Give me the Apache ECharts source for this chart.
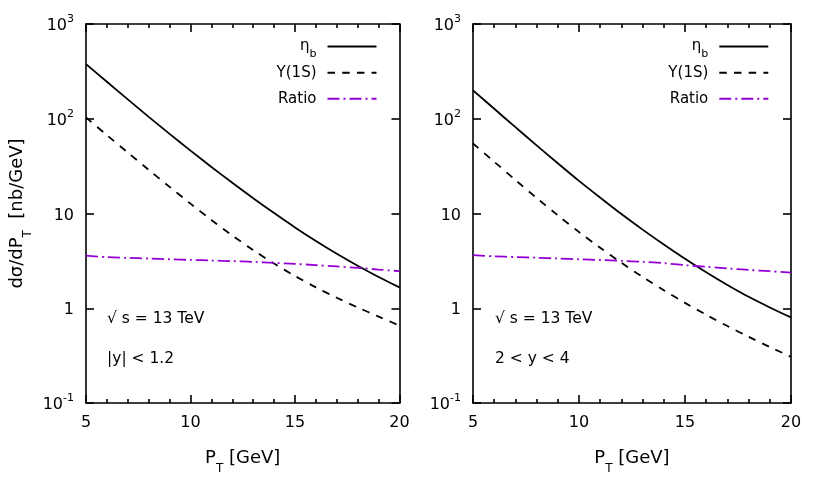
<!DOCTYPE html>
<html>
<head>
<meta charset="utf-8">
<script src="https://cdn.jsdelivr.net/npm/echarts@6/dist/echarts.min.js"></script>
<style>html,body{margin:0;padding:0;background:#fff}#c{width:817px;height:491px}</style>
</head>
<body>
<div id="c"></div>
<script>
// ---- data ----
const pt = [5,6,7,8,9,10,11,12,13,14,15,16,17,18,19,20];
const etaLeft    = [377.6,245.5,160,104.7,69.2,46.1,31.0,21.1,14.5,10.1,7.13,5.13,3.76,2.81,2.14,1.66];
const upsLeft    = [103,67.1,44.0,28.9,19.1,12.7,8.55,5.86,4.11,2.96,2.19,1.66,1.29,1.02,0.817,0.656];
const ratioLeft  = [3.60,3.46,3.40,3.35,3.29,3.24,3.19,3.14,3.09,3.01,2.94,2.85,2.76,2.67,2.56,2.46];
const etaRight   = [199.5,127.4,81.5,52.4,33.9,22.1,14.7,9.86,6.76,4.71,3.33,2.40,1.76,1.32,1.02,0.80];
const upsRight   = [54.8,35.2,22.6,14.6,9.57,6.38,4.35,3.02,2.14,1.55,1.14,0.853,0.649,0.500,0.390,0.307];
const ratioRight = [3.63,3.53,3.47,3.41,3.35,3.29,3.23,3.16,3.09,2.99,2.85,2.74,2.63,2.54,2.46,2.38];
const seriesNames = ['ηb','Y(1S)','Ratio'];
const notesLeft = ['√ s = 13 TeV','|y| < 1.2'];
const notesRight = ['√ s = 13 TeV','2 < y < 4'];

const FONT = 'DejaVu Sans';
const AX = '#000';
const LW = 1.6;
const PURPLE = '#9400D3';

function zip(x, y){ return x.map((v,i)=>[v,y[i]]); }

const supRich = {
  b: {fontSize:16, fontFamily:FONT, color:'#000', lineHeight:20, verticalAlign:'bottom'},
  sup: {fontSize:11, fontFamily:FONT, color:'#000', lineHeight:20, verticalAlign:'top'}
};
function yFmt(v){
  const e = Math.round(Math.log10(v));
  if (e === 0) return '{b|1}';
  if (e === 1) return '{b|10}';
  return '{b|10}{sup|' + e + '}';
}
const subRich = {s:{fontSize:12, fontFamily:FONT, color:'#000', verticalAlign:'bottom', lineHeight:12, padding:[0,0,-8,0]}};

function xAxes(gi){
  const base = {
    gridIndex: gi, type:'value', min:5, max:20, interval:5,
    axisLine:{show:true, onZero:false, lineStyle:{color:AX, width:LW}},
    axisTick:{show:true, inside:true, length:8, lineStyle:{color:AX, width:LW}},
    minorTick:{show:true, splitNumber:5, length:4, lineStyle:{color:AX, width:LW}},
    splitLine:{show:false}, minorSplitLine:{show:false}
  };
  return [
    Object.assign({}, base, {
      position:'bottom',
      axisLabel:{show:true, margin:12, fontSize:16, fontFamily:FONT, color:'#000'},
      name:'P{s|T} [GeV]', nameLocation:'middle', nameGap:46,
      nameTextStyle:{fontSize:18, fontFamily:FONT, color:'#000', rich:subRich}
    }),
    Object.assign({}, base, {position:'top', axisLabel:{show:false}})
  ];
}
function yAxes(gi, withName){
  const base = {
    gridIndex: gi, type:'log', logBase:10, min:0.1, max:1000,
    axisLine:{show:true, onZero:false, lineStyle:{color:AX, width:LW}},
    axisTick:{show:true, inside:true, length:8, lineStyle:{color:AX, width:LW}},
    minorTick:{show:false},
    splitLine:{show:false}
  };
  const left = Object.assign({}, base, {
    position:'left',
    axisLabel:{show:true, margin:12, formatter:yFmt, rich:supRich}
  });
  if (withName){
    left.name = 'dσ/dP{s|T}  [nb/GeV]';
    left.nameLocation = 'middle';
    left.nameGap = 60;
    left.nameTextStyle = {fontSize:18, fontFamily:FONT, color:'#000', rich:subRich};
  }
  const right = Object.assign({}, base, {position:'right', axisLabel:{show:false}});
  return [left, right];
}

function mkSeries(gi, eta, ups, ratio){
  const xi = gi*2, yi = gi*2;
  const common = {type:'line', xAxisIndex:xi, yAxisIndex:yi, symbol:'none', showSymbol:false, smooth:0.3, silent:true, animation:false, clip:true};
  return [
    Object.assign({}, common, {name:seriesNames[0], data:zip(pt,eta), lineStyle:{color:'#000', width:1.8, type:'solid'}, itemStyle:{color:'#000'}}),
    Object.assign({}, common, {name:seriesNames[1], data:zip(pt,ups), lineStyle:{color:'#000', width:1.8, type:[7.5,7.2]}, itemStyle:{color:'#000'}}),
    Object.assign({}, common, {name:seriesNames[2], data:zip(pt,ratio), lineStyle:{color:PURPLE, width:1.8, type:[12,4,2,4]}, itemStyle:{color:PURPLE}})
  ];
}

const legendRich = {
  t:{fontSize:15, fontFamily:FONT, color:'#000', lineHeight:14},
  s:{fontSize:11, fontFamily:FONT, color:'#000', lineHeight:14, verticalAlign:'bottom', padding:[0,0,-6,0]}
};
function legFmt(n){ return n === 'ηb' ? '{t|η}{s|b}' : '{t|' + n + '}'; }
function mkLegends(rightPx){
  const centers = [46, 72.3, 98.3];
  return seriesNames.map((n,i)=>({
    data:[n], orient:'vertical', right:rightPx, top:centers[i]-7, padding:0,
    itemWidth:49, itemHeight:14, align:'right', selectedMode:false,
    itemStyle:{opacity:0, borderWidth:0, color:'rgba(0,0,0,0)'},
    formatter:legFmt,
    textStyle:{fontSize:15, fontFamily:FONT, color:'#000', lineHeight:14, padding:[0,6,0,0], rich:legendRich}
  }));
}

function note(x, y, t){
  return {type:'text', x:x, y:y, silent:true,
    style:{text:t, font:'15.5px "DejaVu Sans"', fill:'#000', textAlign:'left', textVerticalAlign:'middle'}};
}

const chart = echarts.init(document.getElementById('c'), null, {renderer:'canvas'});
chart.setOption({
  backgroundColor:'#fff',
  animation:false,
  grid:[
    {left:86, right:417.5, top:24, bottom:88},
    {left:473, right:26, top:24, bottom:88}
  ],
  xAxis:[].concat(xAxes(0), xAxes(1)),
  yAxis:[].concat(yAxes(0,true), yAxes(1,false)),
  legend:[].concat(mkLegends(439.5), mkLegends(47.7)),
  series:[].concat(
    mkSeries(0, etaLeft, upsLeft, ratioLeft),
    mkSeries(1, etaRight, upsRight, ratioRight)
  ),
  graphic:[
    note(107, 319, notesLeft[0]), note(107, 359, notesLeft[1]),
    note(495, 319, notesRight[0]), note(495, 359, notesRight[1])
  ]
});
</script>
</body>
</html>
